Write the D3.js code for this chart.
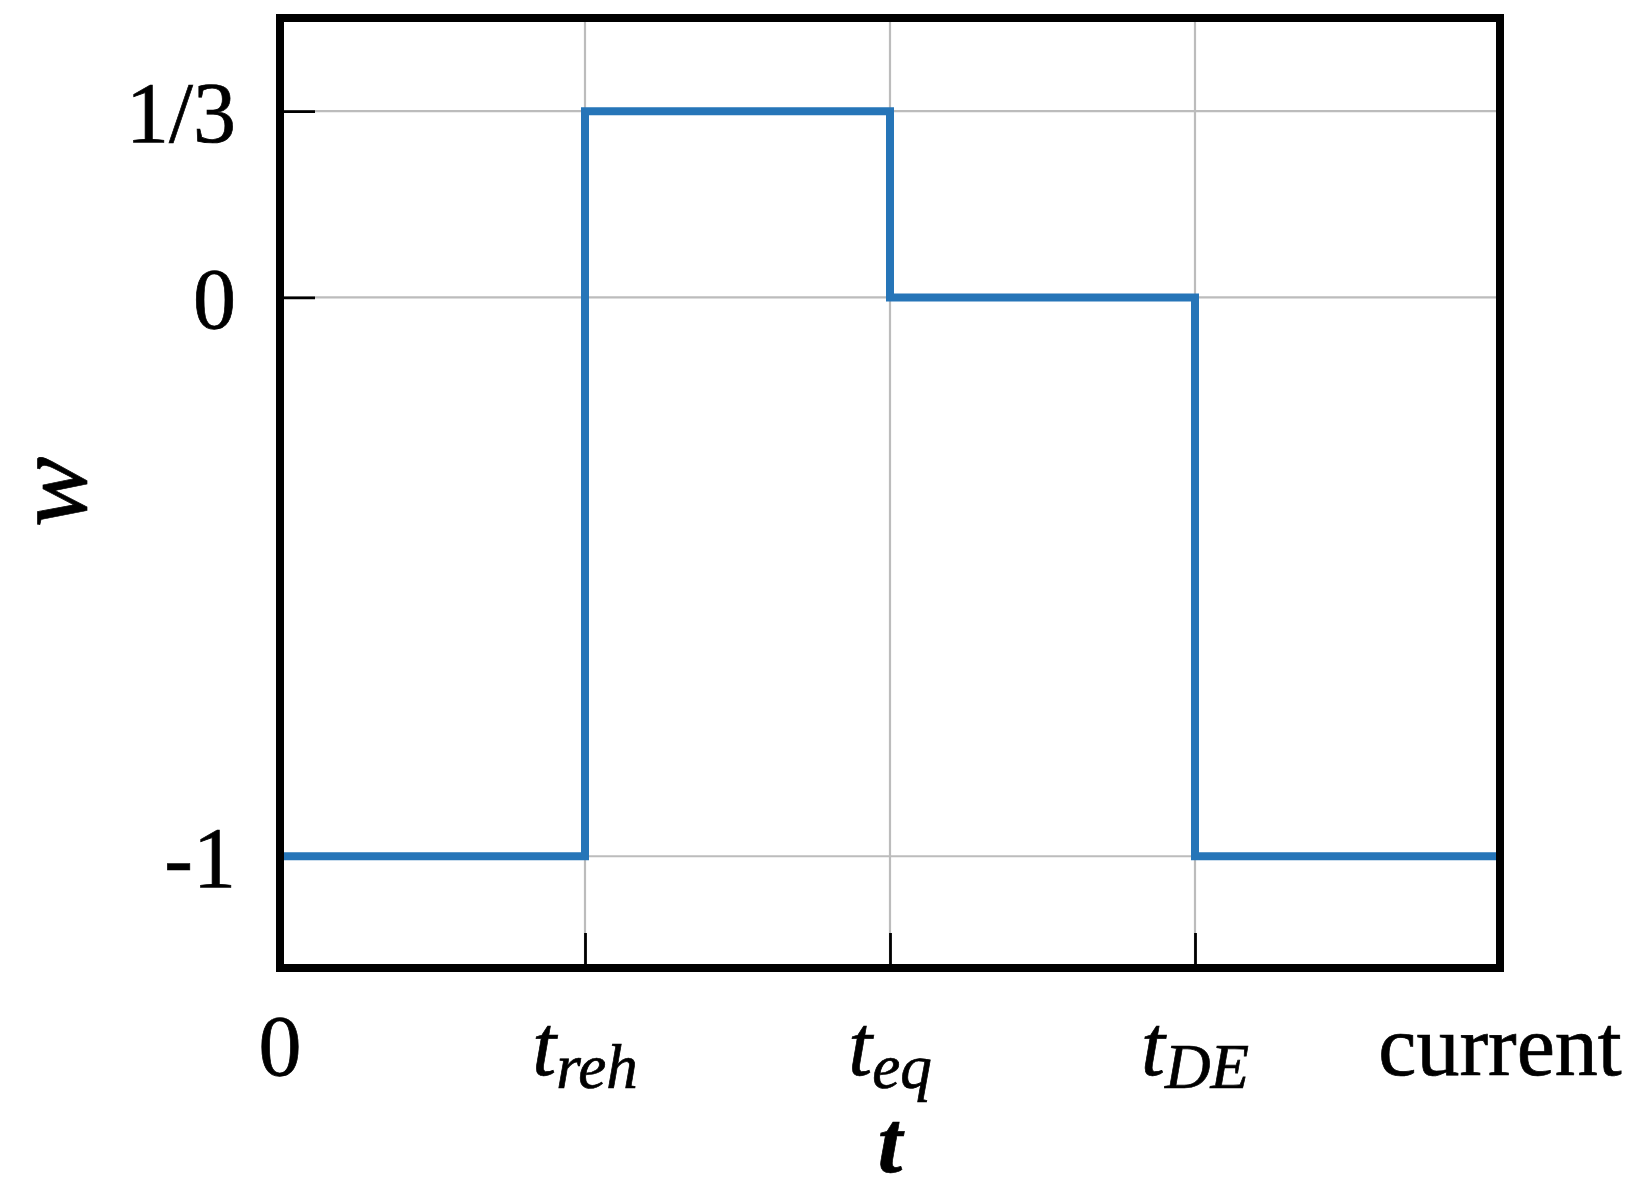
<!DOCTYPE html>
<html>
<head>
<meta charset="utf-8">
<script src="https://cdn.jsdelivr.net/npm/d3@7"></script>
<style>
  html, body { margin: 0; padding: 0; background: #fff; }
  svg { display: block; }
  text { font-family: "Liberation Serif", "Times New Roman", serif; fill: #000; stroke: #000; stroke-width: 0.7px; }
</style>
</head>
<body>
<svg id="chart" width="1639" height="1187"></svg>
<script>
// ---- data ----
const tPoints = [0, 1, 2, 3, 4];            // epochs along t (ordinal positions)
const wValues = [-1, 1/3, 0, -1, -1];       // w on each interval (step after)
const xTickMain = ["0", "t", "t", "t", "current"];
const xTickSub  = ["", "reh", "eq", "DE", ""];
const yTickValues = [-1, 0, 1/3];
const yTickLabels = ["-1", "0", "1/3"];
const xDomain = [0, 4];
const yDomain = [-1.2, 0.5];

// ---- layout ----
const svg = d3.select("#chart");
const L = 280, R = 1500, T = 18, B = 968;
const x = d3.scaleLinear().domain(xDomain).range([L, R]);
const y = d3.scaleLinear().domain(yDomain).range([B, T]);

// gridlines
const grid = svg.append("g");
grid.selectAll("line.gx").data(tPoints.slice(1, -1)).join("line")
  .attr("x1", d => x(d)).attr("x2", d => x(d))
  .attr("y1", T).attr("y2", B)
  .attr("stroke", "#bcbcbc").attr("stroke-width", 2.2);
grid.selectAll("line.gy").data(yTickValues).join("line")
  .attr("x1", L).attr("x2", R)
  .attr("y1", d => y(d)).attr("y2", d => y(d))
  .attr("stroke", "#bcbcbc").attr("stroke-width", 2.2);

// axes (inward ticks)
const yAxis = d3.axisLeft(y).tickValues(yTickValues).tickSize(-35).tickFormat("");
const gy = svg.append("g").attr("transform", `translate(${L},0)`).call(yAxis);
gy.select(".domain").remove();
gy.selectAll(".tick line").attr("stroke", "#000").attr("stroke-width", 2.8);

const xAxis = d3.axisBottom(x).tickValues(tPoints).tickSize(-35).tickFormat("");
const gx = svg.append("g").attr("transform", `translate(0,${B})`).call(xAxis);
gx.select(".domain").remove();
gx.selectAll(".tick line").attr("stroke", "#000").attr("stroke-width", 2.8);

// y tick labels
svg.append("g").selectAll("text").data(yTickValues).join("text")
  .attr("x", 236)
  .attr("y", d => y(d) + 31)
  .attr("text-anchor", "end")
  .attr("font-size", 86)
  .text((d, i) => yTickLabels[i]);

// x tick labels
const xl = svg.append("g").selectAll("text").data(tPoints).join("text")
  .attr("x", d => x(d))
  .attr("y", 1075)
  .attr("text-anchor", "middle")
  .attr("font-size", 86);
xl.each(function(d, i) {
  const t = d3.select(this);
  if (xTickSub[i]) {
    t.append("tspan").attr("font-style", "italic").text(xTickMain[i]);
    t.append("tspan").attr("font-style", "italic").attr("font-size", 63)
      .attr("dy", 13).text(xTickSub[i]);
  } else {
    t.text(xTickMain[i]);
  }
});

// step line
const line = d3.line()
  .x((d, i) => x(tPoints[i]))
  .y(d => y(d))
  .curve(d3.curveStepAfter);
svg.append("path")
  .attr("d", line(wValues))
  .attr("fill", "none")
  .attr("stroke", "#2675b8")
  .attr("stroke-width", 8);

// frame
svg.append("rect")
  .attr("x", L).attr("y", T)
  .attr("width", R - L).attr("height", B - T)
  .attr("fill", "none").attr("stroke", "#000").attr("stroke-width", 8);

// axis titles
svg.append("text")
  .attr("x", x(2)).attr("y", 1172)
  .attr("text-anchor", "middle")
  .attr("font-size", 88).attr("font-style", "italic").attr("font-weight", "bold")
  .text("t");
svg.append("text")
  .attr("transform", `translate(86,${492}) rotate(-90)`)
  .attr("text-anchor", "middle")
  .attr("font-size", 106).attr("font-style", "italic")
  .text("w");
</script>
</body>
</html>
